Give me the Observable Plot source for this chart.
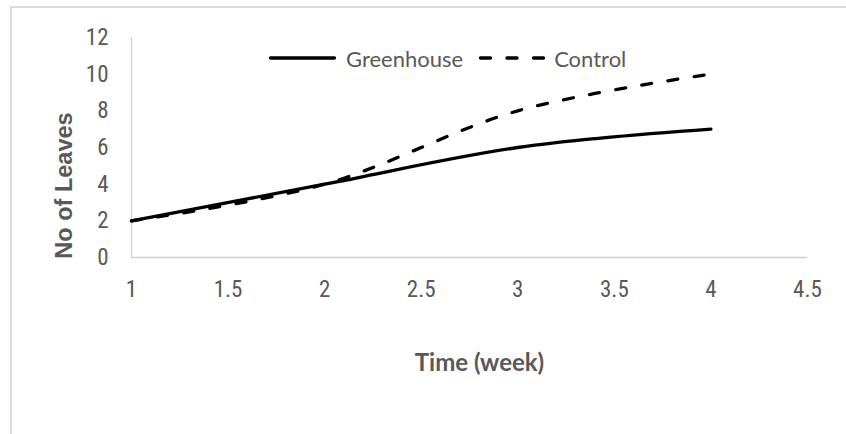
<!DOCTYPE html>
<html>
<head>
<meta charset="utf-8">
<script src="https://cdn.jsdelivr.net/npm/d3@7"></script>
<script src="https://cdn.jsdelivr.net/npm/@observablehq/plot@0.6"></script>
<style>
  html, body { margin: 0; padding: 0; background: #fff; }
  #wrap { position: relative; width: 846px; height: 434px; overflow: hidden; font-family: Lato, "Open Sans", sans-serif; }
  #frame { position: absolute; left: 10px; top: 6px; width: 900px; height: 500px; border-left: 2px solid #d9d9d9; border-top: 2px solid #d9d9d9; }
  #chart { position: absolute; left: 0; top: 0; }
  #legend { position: absolute; left: 269px; top: 44px; height: 28px; display: flex; align-items: center; font-size: 22px; color: #595959; white-space: nowrap; }
  #legend .item { display: flex; align-items: center; }
  #legend svg { display: block; }
</style>
</head>
<body>
<div id="wrap">
  <div id="frame"></div>
  <div id="chart"></div>
  <div id="legend"></div>
</div>
<script>
// ---- data ----
const weeks = [1, 2, 3, 4];
const greenhouse = [2, 4, 6, 7];
const control = [2, 4, 8, 10];
const seriesNames = ["Greenhouse", "Control"];
const xTicks = [1, 1.5, 2, 2.5, 3, 3.5, 4, 4.5];
const xTickLabels = ["1", "1.5", "2", "2.5", "3", "3.5", "4", "4.5"];
const yTicks = [0, 2, 4, 6, 8, 10, 12];
const xTitle = "Time (week)";
const yTitle = "No of Leaves";

const rows = [
  ...weeks.map((w, i) => ({week: w, leaves: greenhouse[i], series: seriesNames[0]})),
  ...weeks.map((w, i) => ({week: w, leaves: control[i], series: seriesNames[1]}))
];

const dash = "10,16.5";
const grey = "#595959";
const axisGrey = "#d0d0d0";
const tickFont = "'Liberation Sans Narrow', 'Roboto Condensed', Lato, sans-serif";

const chart = Plot.plot({
  width: 846,
  height: 434,
  marginLeft: 131,
  marginRight: 39,
  marginTop: 37,
  marginBottom: 177,
  style: {fontFamily: tickFont, fontSize: "23px", color: grey, background: "transparent", overflow: "visible"},
  x: {domain: [1, 4.5]},
  y: {domain: [0, 12]},
  marks: [
    Plot.ruleY([0], {stroke: axisGrey, strokeWidth: 1.3}),
    Plot.ruleX([1], {stroke: axisGrey, strokeWidth: 1.3}),
    Plot.axisX({ticks: xTicks, tickSize: 0, tickPadding: 23, tickFormat: (d) => xTickLabels[xTicks.indexOf(d)], label: null, fill: grey}),
    Plot.axisY({ticks: yTicks, tickSize: 0, tickPadding: 23, label: null, fill: grey}),
    Plot.line(rows.filter(d => d.series === seriesNames[0]), {x: "week", y: "leaves", stroke: "#000", strokeWidth: 3.3, curve: "cardinal", strokeLinecap: "round", strokeLinejoin: "round"}),
    Plot.line(rows.filter(d => d.series === seriesNames[1]), {x: "week", y: "leaves", stroke: "#000", strokeWidth: 3.3, curve: "cardinal", strokeDasharray: dash, strokeLinecap: "round"}),
    Plot.text([xTitle], {text: d => d, frameAnchor: "bottom", dy: 113, dx: 10, fontWeight: "bold", fontSize: 24, fontFamily: "Lato, sans-serif", fill: grey}),
    Plot.text([yTitle], {text: d => d, frameAnchor: "left", textAnchor: "middle", rotate: -90, dx: -67, dy: 38, fontWeight: "bold", fontSize: 23.5, fontFamily: "'Liberation Sans', Arial, sans-serif", fill: grey})
  ]
});
document.getElementById("chart").appendChild(chart);

// ---- legend ----
const legend = d3.select("#legend");
const swatches = [
  {name: seriesNames[0], dash: null, w: 67, gapAfter: 10},
  {name: seriesNames[1], dash: dash, w: 68, gapAfter: 7}
];
swatches.forEach((s, i) => {
  const item = legend.append("div").attr("class", "item").style("margin-right", i === 0 ? "16px" : "0");
  const svg = item.append("svg").attr("width", s.w).attr("height", 10);
  svg.append("line")
    .attr("x1", 1.5).attr("x2", s.w - 1.5).attr("y1", 5).attr("y2", 5)
    .attr("stroke", "#000").attr("stroke-width", 3.3).attr("stroke-linecap", "round")
    .attr("stroke-dasharray", s.dash);
  item.append("span").style("margin-left", s.gapAfter + "px").text(s.name);
});
</script>
</body>
</html>
